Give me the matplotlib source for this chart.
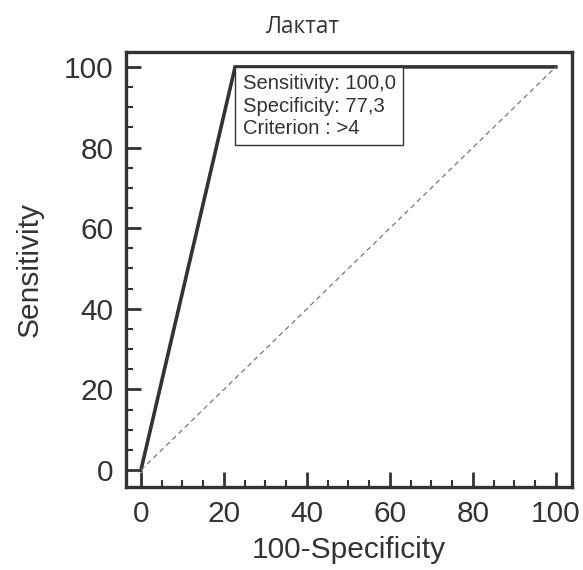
import matplotlib
matplotlib.use("Agg")
import matplotlib.pyplot as plt
from matplotlib.ticker import MultipleLocator

roc_x = [0, 22.7, 100]
roc_y = [0, 100, 100]
diag = [0, 100]
ticks = [0, 20, 40, 60, 80, 100]
title = "Лактат"
info = "Sensitivity: 100,0\nSpecificity: 77,3\nCriterion : >4"

col = "#333333"
plt.rcParams['font.family'] = ['Liberation Sans', 'DejaVu Sans']
fig = plt.figure(figsize=(5.83, 5.70), dpi=100)
ax = fig.add_axes([126/583, 1-487/570, (572-126)/583, (487-52)/570])
ax.plot(roc_x, roc_y, color=col, lw=2.6, solid_joinstyle='miter')
ax.plot(diag, diag, color='#777777', lw=0.9, ls=(0, (4, 3)))
ax.set_xlim(-3.6, 103.9)
ax.set_ylim(-4.2, 103.7)
ax.set_xticks(ticks)
ax.set_yticks(ticks)
ax.xaxis.set_minor_locator(MultipleLocator(5))
ax.yaxis.set_minor_locator(MultipleLocator(5))
ax.tick_params(which='major', direction='in', length=11, width=2, colors=col,
               labelsize=21.5, pad=9, labelcolor=col)
ax.tick_params(which='minor', direction='in', length=5, width=1.5, colors=col)
for s in ax.spines.values():
    s.set_linewidth(2.4)
    s.set_color(col)
ax.set_xlabel("100-Specificity", fontsize=21.5, color=col)
ax.set_ylabel("Sensitivity", fontsize=21.5, color=col)
ax.xaxis.set_label_coords(0.5, -(550 - 487) / (487 - 52), transform=ax.transAxes)
ax.yaxis.set_label_coords(-(126 - 30) / (572 - 126), 0.5, transform=ax.transAxes)
ax.xaxis.label.set_va('center')
ax.yaxis.label.set_va('center')
fig.text(303/583, 1-27/570, title, fontsize=16.3, color=col, ha='center', va='center',
         family=['Open Sans', 'DejaVu Sans'])
ax.text(24.5, 98.3, info, fontsize=14.6, color=col, ha='left', va='top', linespacing=1.25,
        bbox=dict(boxstyle='square,pad=0.35', fc='white', ec=col, lw=1.0))
fig.savefig("out.png", dpi=100)
